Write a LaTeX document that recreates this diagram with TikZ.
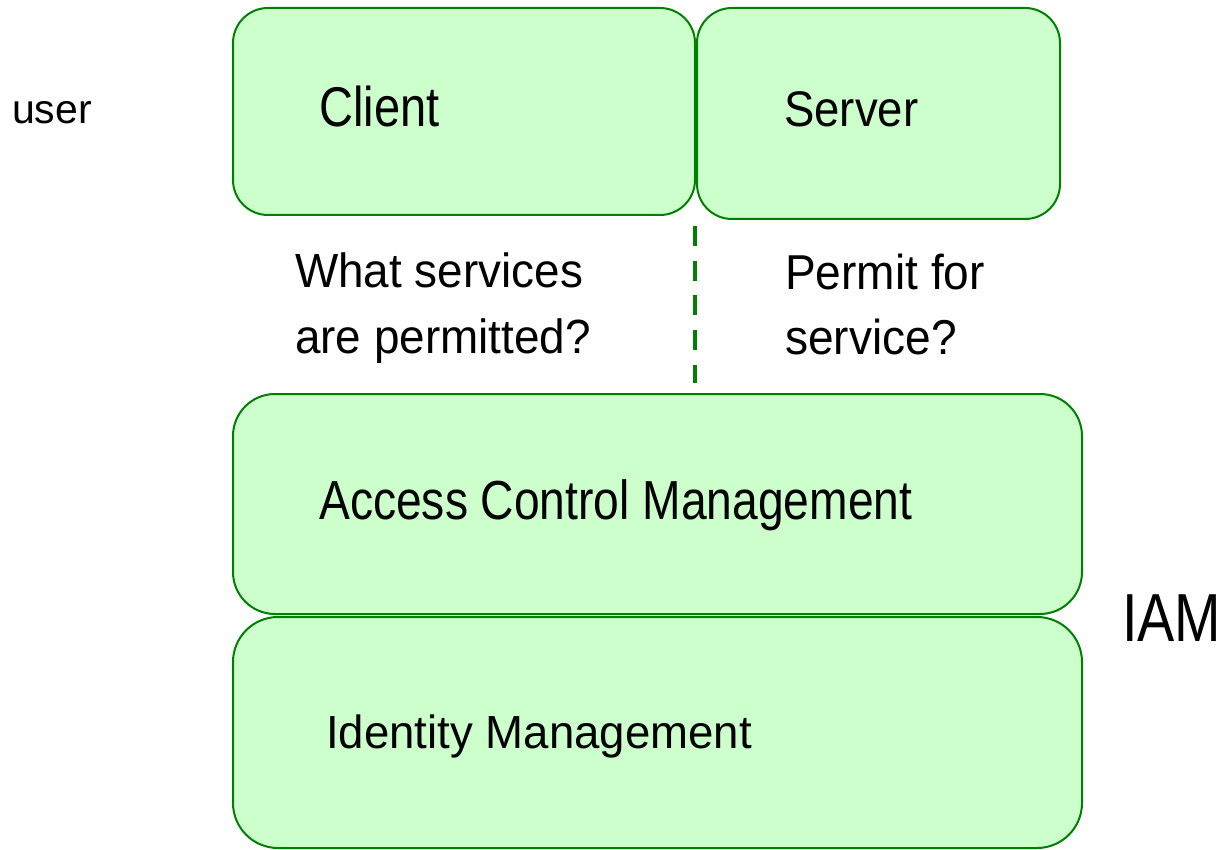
\documentclass[tikz,border=0pt]{standalone}
\usepackage{fontspec}
\setmainfont{Liberation Sans}
\usepackage{graphicx}
\definecolor{boxfill}{HTML}{CCFFCC}
\definecolor{boxline}{HTML}{008000}
\newcommand{\nar}[2]{\scalebox{#1}[1]{#2}}
\newcommand{\fs}[1]{\fontsize{#1}{#1}\selectfont}
\begin{document}
\begin{tikzpicture}[x=1pt,y=-1pt,
  box/.style={draw=boxline, fill=boxfill, line width=2pt, inner sep=0pt},
  lbl/.style={anchor=base west, inner sep=0pt}]
\useasboundingbox (0,0) rectangle (1221,850);
\node(client) at (464,111.5) [box, rounded corners=35pt, minimum width=462pt, minimum height=207pt]{};
\node(server) at (878.5,113.5) [box, rounded corners=35pt, minimum width=363pt, minimum height=211pt]{};
\node(acm) at (657.5,504) [box, rounded corners=42pt, minimum width=849pt, minimum height=220pt]{};
\node(idm) at (657.5,732.5) [box, rounded corners=45pt, minimum width=849pt, minimum height=231pt]{};
\coordinate(splittop) at (695,226);
\coordinate(splitbot) at (695,383);
\draw[boxline, line width=4pt, dash pattern=on 20pt off 14.7pt] (splittop) -- (splitbot);
\node(user) at (12,124) [lbl]{\fs{41}user};
\node(clientlbl) at (319,127) [lbl]{\fs{56}\nar{.84}{Client}};
\node(serverlbl) at (784,127) [lbl]{\fs{50}\nar{.91}{Server}};
\node(ask1) at (295,288) [lbl]{\fs{48}\nar{.955}{What services}};
\node(ask2) at (295,353) [lbl]{\fs{48}\nar{.955}{are permitted?}};
\node(permit1) at (785,290) [lbl]{\fs{49}\nar{.94}{Permit for}};
\node(permit2) at (785,355) [lbl]{\fs{49}\nar{.94}{service?}};
\node(acmlbl) at (319,519) [lbl]{\fs{55}\nar{.84}{Access Control Management}};
\node(idmlbl) at (326,748) [lbl]{\fs{46.5}\nar{.98}{Identity Management}};
\node(iam) at (1122,641) [lbl]{\fs{68}\nar{.82}{IAM}};
\end{tikzpicture}
\end{document}
